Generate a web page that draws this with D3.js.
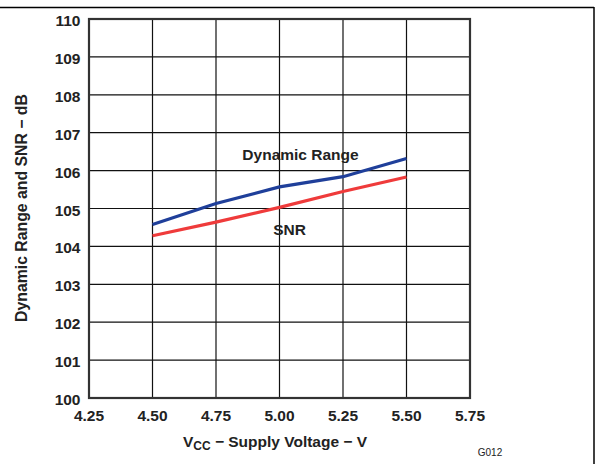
<!DOCTYPE html>
<html><head><meta charset="utf-8">
<script src="https://cdn.jsdelivr.net/npm/d3@7"></script>
<style>body{margin:0;background:#fff}svg{display:block}text{font-family:"Liberation Sans",Arial,sans-serif}</style>
</head><body><svg id="c" width="597" height="464"></svg>
<script>
const voltages = [4.50, 4.75, 5.00, 5.25, 5.50];
const dynamicRange = [104.58, 105.13, 105.57, 105.84, 106.32];
const snr = [104.28, 104.64, 105.03, 105.45, 105.83];
const xTicks = [4.25, 4.50, 4.75, 5.00, 5.25, 5.50, 5.75];
const yTicks = [100,101,102,103,104,105,106,107,108,109,110];

const svg = d3.select("#c");
const L = 89, R = 470, T = 19, B = 398;
const x = d3.scaleLinear().domain([4.25, 5.75]).range([L, R]);
const y = d3.scaleLinear().domain([100, 110]).range([B, T]);

// outer frame lines
svg.append("line").attr("x1",0).attr("x2",594).attr("y1",7.5).attr("y2",7.5).attr("stroke","#000").attr("stroke-width",1.5);
svg.append("line").attr("x1",594).attr("x2",594).attr("y1",7).attr("y2",464).attr("stroke","#000").attr("stroke-width",1.5);

// grid
const g = svg.append("g");
g.selectAll(".vg").data(xTicks).join("line")
  .attr("x1",d=>x(d)).attr("x2",d=>x(d)).attr("y1",T).attr("y2",B)
  .attr("stroke","#111").attr("stroke-width",1.2);
g.selectAll(".hg").data(yTicks).join("line")
  .attr("x1",L).attr("x2",R).attr("y1",d=>y(d)).attr("y2",d=>y(d))
  .attr("stroke","#111").attr("stroke-width",1.2);
g.append("rect").attr("x",L).attr("y",T).attr("width",R-L).attr("height",B-T)
  .attr("fill","none").attr("stroke","#333").attr("stroke-width",2.2);

// tick labels
svg.selectAll(".yl").data(yTicks).join("text")
  .attr("x",80.5).attr("y",d=>y(d)+7).attr("text-anchor","end")
  .attr("font-size",15.5).attr("font-weight","bold").attr("fill","#222").text(d=>d);
svg.selectAll(".xl").data(xTicks).join("text")
  .attr("x",d=>x(d)).attr("y",421).attr("text-anchor","middle")
  .attr("font-size",15.5).attr("font-weight","bold").attr("fill","#222").text(d=>d.toFixed(2));

// axis titles
const xt = svg.append("text").attr("x",275).attr("y",447).attr("text-anchor","middle")
  .attr("font-size",15.5).attr("font-weight","bold").attr("fill","#222");
xt.append("tspan").text("V");
xt.append("tspan").attr("font-size",12).attr("dy",3).text("CC");
xt.append("tspan").attr("dy",-3).text(" \u2212 Supply Voltage \u2212 V");

svg.append("text").attr("transform","translate(26.5,208) rotate(-90)").attr("text-anchor","middle")
  .attr("font-size",15.8).attr("font-weight","bold").attr("fill","#222")
  .text("Dynamic Range and SNR \u2212 dB");

svg.append("text").attr("x",490).attr("y",456).attr("text-anchor","middle")
  .attr("font-size",10).attr("fill","#222").text("G012");

// lines
const line = d3.line().x(d=>x(d[0])).y(d=>y(d[1]));
svg.append("path").datum(d3.zip(voltages, snr)).attr("d",line)
  .attr("fill","none").attr("stroke","#ef3b3b").attr("stroke-width",3.2);
svg.append("path").datum(d3.zip(voltages, dynamicRange)).attr("d",line)
  .attr("fill","none").attr("stroke","#1f3f9a").attr("stroke-width",3.2);

// labels
svg.append("text").attr("x",300.5).attr("y",160).attr("text-anchor","middle")
  .attr("font-size",15.5).attr("font-weight","bold").attr("fill","#222").text("Dynamic Range");
svg.append("text").attr("x",289.5).attr("y",235).attr("text-anchor","middle")
  .attr("font-size",15.5).attr("font-weight","bold").attr("fill","#222").text("SNR");
</script></body></html>
